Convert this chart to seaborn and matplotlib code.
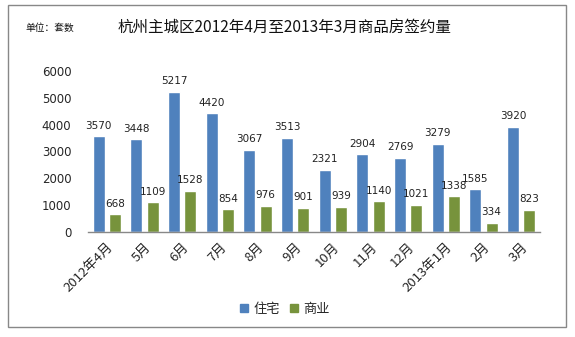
import matplotlib
matplotlib.use("Agg")
import matplotlib.pyplot as plt
import seaborn as sns
import pandas as pd
from matplotlib.patches import Rectangle

months = ["2012年4月", "5月", "6月", "7月", "8月", "9月", "10月", "11月",
          "12月", "2013年1月", "2月", "3月"]
residential = [3570, 3448, 5217, 4420, 3067, 3513, 2321, 2904, 2769, 3279, 1585, 3920]
commercial = [668, 1109, 1528, 854, 976, 901, 939, 1140, 1021, 1338, 334, 823]
series_names = ["住宅", "商业"]
colors = ["#4F81BD", "#77933C"]
y_ticks = [0, 1000, 2000, 3000, 4000, 5000, 6000]

sns.set_theme(style="white")
plt.rcParams["font.family"] = ["Noto Sans CJK SC", "DejaVu Sans"]

df = pd.DataFrame({
    "month": months * 2,
    "value": residential + commercial,
    "type": [series_names[0]] * len(months) + [series_names[1]] * len(months),
})

fig = plt.figure(figsize=(5.75, 3.37), dpi=100)
ax = fig.add_axes([88 / 575, 1 - 232 / 337, 452 / 575, 161 / 337])

sns.barplot(data=df, x="month", y="value", hue="type", order=months,
            hue_order=series_names, palette=colors, width=0.85, gap=0.25,
            saturation=1, ax=ax, legend=False)

for container in ax.containers:
    ax.bar_label(container, fmt="%d", padding=4, fontsize=7.5,
                 family=["DejaVu Sans"], color="#222222")

ax.set_ylim(0, 6000)
ax.set_yticks(y_ticks)
ax.set_yticklabels([str(v) for v in y_ticks], fontsize=8.5, family=["DejaVu Sans"])
ax.set_xlim(-0.5, len(months) - 0.5)
ax.set_xticks(range(len(months)))
ax.set_xticklabels(months, rotation=45, ha="right", rotation_mode="anchor",
                   fontsize=9.5)
ax.tick_params(axis="y", length=0, pad=12)
ax.tick_params(axis="x", length=0, pad=6)
ax.set_xlabel("")
ax.set_ylabel("")
for side in ["top", "right", "left"]:
    ax.spines[side].set_visible(False)
ax.spines["bottom"].set_color("#888888")
ax.spines["bottom"].set_linewidth(1)

handles = [Rectangle((0, 0), 1, 1, color=c) for c in colors]
fig.legend(handles, series_names, loc="center", bbox_to_anchor=(285 / 575, 1 - 309 / 337),
           ncol=2, frameon=False, fontsize=9.5, handlelength=0.6, handleheight=0.6,
           handletextpad=0.4, columnspacing=0.8)

fig.text(118 / 575, 1 - 27 / 337, "杭州主城区2012年4月至2013年3月商品房签约量",
         fontsize=11.2, va="center", ha="left", color="#111111")
fig.text(25 / 575, 1 - 28 / 337, "单位：套数", fontsize=7, va="center", ha="left",
         color="#111111")

fig.patches.append(Rectangle((8 / 575, 1 - 327 / 337), 558 / 575, 322 / 337,
                             transform=fig.transFigure, fill=False,
                             edgecolor="#888888", linewidth=1))

fig.savefig("out.png", dpi=100)
